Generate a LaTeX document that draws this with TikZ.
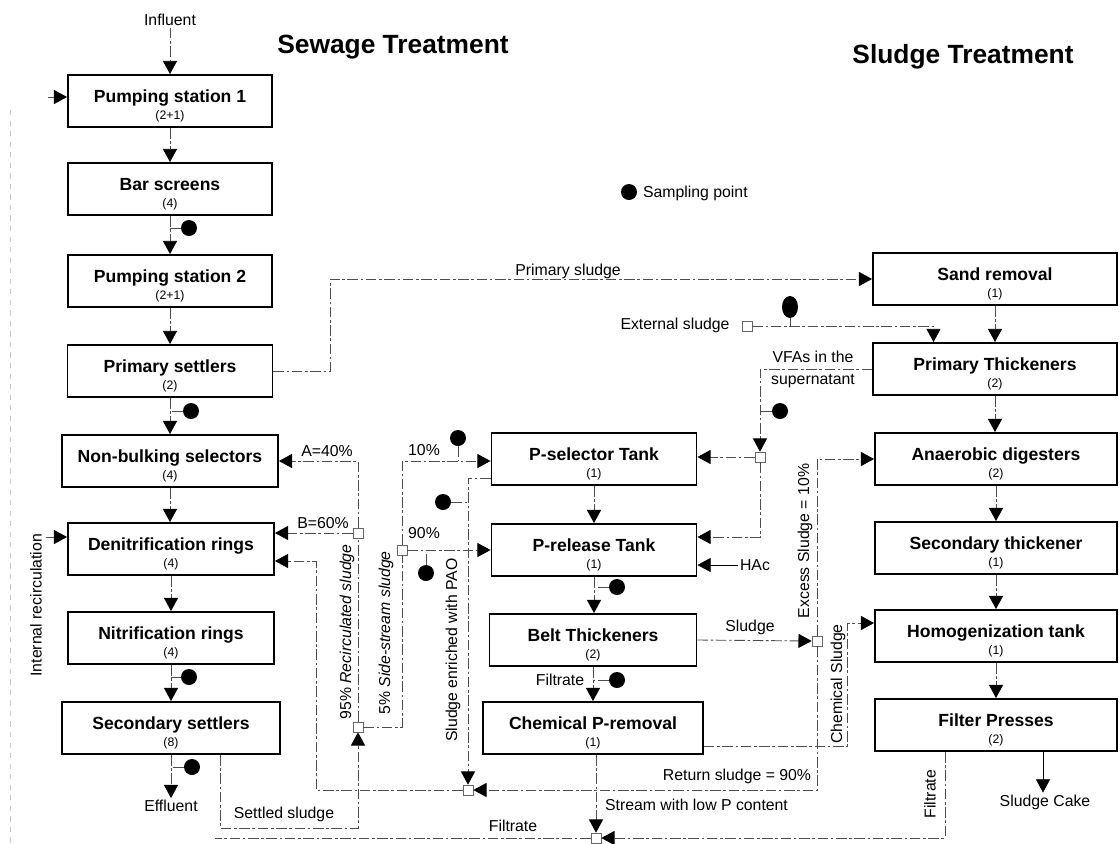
\documentclass[tikz,border=0pt]{standalone}
\usepackage{fontspec}
\setmainfont{Liberation Sans}
\usepackage{tikz}
\usetikzlibrary{calc}
\usetikzlibrary{arrows.meta}
\usetikzlibrary{shapes.geometric}
\tikzset{
  unit/.style={draw, line width=1.1pt, fill=white, minimum height=1.04cm, align=center, inner sep=1pt, font=\fontsize{10}{10}\selectfont\bfseries},
  flow/.style={black!70, line width=.5pt, dash pattern=on 6pt off 1.5pt on 1.5pt off 1.5pt},
  tip/.style={-{Triangle[width=8pt,length=7.5pt,color=black]}},
  dot/.style={circle, fill=black, inner sep=0pt, minimum size=.32cm},
  junc/.style={draw=black!60, fill=white, inner sep=0pt, minimum size=.2cm, line width=.4pt},
  lbl/.style={font=\fontsize{9}{10}\selectfont, inner sep=1pt},
  ttl/.style={font=\fontsize{15}{16}\selectfont\bfseries},
}
\newcommand{\unitext}[2]{\rule{0pt}{13pt}#1\\[0pt]{\fontsize{7}{7}\selectfont\mdseries (#2)}}

\begin{document}
\begin{tikzpicture}[x=.02cm, y=-.02cm]
\useasboundingbox (0,0) rectangle (1120,843);
% titles and legend
\node[ttl] (tsew) at (393,47) {Sewage Treatment};
\node[ttl] (tslu) at (963,57) {Sludge Treatment};
\node[dot] (dleg) at (629,192) {};
\node[lbl, anchor=west] (lleg) at (641,193) {Sampling point};

% sewage line
\node[unit, minimum width=4.08cm] (ps1) at (170,101) {\unitext{Pumping station 1}{2+1}};
\node[unit, minimum width=4.08cm] (bars) at (170,189) {\unitext{Bar screens}{4}};
\node[unit, minimum width=4.08cm] (ps2) at (170,281) {\unitext{Pumping station 2}{2+1}};
\node[unit, minimum width=4.1cm] (prim) at (170,371) {\unitext{Primary settlers}{2}};
\node[unit, minimum width=4.32cm] (nbs) at (170,461) {\unitext{Non-bulking selectors}{4}};
\node[unit, minimum width=4.12cm] (den) at (171,549) {\unitext{Denitrification rings}{4}};
\node[unit, minimum width=4.12cm] (nit) at (171,638) {\unitext{Nitrification rings}{4}};
\node[unit, minimum width=4.36cm] (sec) at (171,728) {\unitext{Secondary settlers}{8}};
\node[lbl] (infl) at (170,20) {Influent};
\node[lbl] (effl) at (171,806) {Effluent};

% P line
\node[unit, minimum width=4.1cm] (psel) at (594,459) {\unitext{P-selector Tank}{1}};
\node[unit, minimum width=4.1cm] (prel) at (594,550) {\unitext{P-release Tank}{1}};
\node[unit, minimum width=4.14cm] (belt) at (593,640) {\unitext{Belt Thickeners}{2}};
\node[unit, minimum width=4.4cm] (chem) at (593,728) {\unitext{Chemical P-removal}{1}};

% sludge line
\node[unit, minimum width=4.88cm] (sand) at (995,279) {\unitext{Sand removal}{1}};
\node[unit, minimum width=4.88cm] (pthk) at (995,369) {\unitext{Primary Thickeners}{2}};
\node[unit, minimum width=4.84cm] (anae) at (996,459) {\unitext{Anaerobic digesters}{2}};
\node[unit, minimum width=4.84cm] (sthk) at (996,548) {\unitext{Secondary thickener}{1}};
\node[unit, minimum width=4.84cm] (homo) at (996,636) {\unitext{Homogenization tank}{1}};
\node[unit, minimum width=4.84cm] (filt) at (996,725) {\unitext{Filter Presses}{2}};
\node[lbl] (cake) at (1045,802) {Sludge Cake};

% junctions
\node[junc] (jext) at (747,326) {};
\node[junc] (jvfa) at (760,457) {};
\node[junc] (jsl) at (817,641) {};
\node[junc] (jret) at (468,790) {};
\node[junc] (jrec) at (358,727) {};
\node[junc] (jab) at (358,533) {};
\node[junc] (jsp) at (402,550) {};
\node[junc] (jlow) at (596,838) {};

% sampling points
\foreach \d/\x/\y in {dbar/189/228, dpri/191/411, dnit/189/677, dsec/192/767, dprel/617/587, dbelt/617/680, dvfa/780/411, d10/458/438, dpao/443/502, d90/426/573}
  \node[dot] (\d) at (\x,\y) {};
\node[dot, ellipse, minimum width=.32cm, minimum height=.44cm] (dext) at (790,307) {};

% main flows
\foreach \a/\b in {ps1/bars, bars/ps2, ps2/prim, prim/nbs, nbs/den, den/nit, nit/sec, psel/prel, prel/belt, belt/chem, sand/pthk, pthk/anae, anae/sthk, sthk/homo, homo/filt}
  \draw[flow,tip] (\a.south) -- (\a.south |- \b.north);
\draw[flow,tip] (infl) -- (ps1);
\draw[flow,tip] (sec.south) -- (effl.north);
\foreach \d/\c in {dbar/bars, dpri/prim, dnit/nit, dsec/sec, dprel/prel, dbelt/belt}
  \draw[flow] (\d) -- (\d -| \c.south);

\coordinate (inl) at (48,97);
\draw[flow,tip] (inl) -- (inl -| ps1.west);
\node[lbl, rotate=90, anchor=east] (lirc) at (36,532) {Internal recirculation};
\coordinate (irc) at (46,537);
\draw[flow,tip] (irc) -- (irc -| den.west);
\coordinate (edgeA) at (10,110);
\coordinate (edgeB) at (10,843);
\draw[black!22, dashed] (edgeA) -- (edgeB);

% primary and external sludge
\draw[flow,tip] (prim.east) -- ++(57,0) |- (sand.west);
\node[lbl] (lpsl) at (568,271) {Primary sludge};
\node[lbl] (lext) at (675,325) {External sludge};
\coordinate (xin) at ($(pthk.north west)!.25!(pthk.north east)$);
\draw[flow,tip] (jext.east) -| (xin);
\draw[flow] (dext) -- (dext |- jext);

% VFAs
\draw[flow,tip] (pthk.west) -| (jvfa.north);
\node[lbl, align=center, font=\fontsize{9}{12.5}\selectfont] (lvfa) at (813,369) {VFAs in the\\supernatant};
\draw[flow] (dvfa) -- (dvfa -| jvfa);
\draw[flow,tip] (jvfa.west) -- (jvfa -| psel.east);
\coordinate (prelA) at ($(prel.east)+(0,-13)$);
\draw[flow,tip] (jvfa.south) |- (prelA);
\node[lbl] (lhac) at (755,565) {HAc};
\draw[tip] (lhac.west) -- (lhac.west -| prel.east);
\node[lbl] (lfil1) at (560,680) {Filtrate};

% belt thickener sludge
\draw[flow,tip] (belt.east) -- (jsl.west);
\node[lbl] (lsl) at (750,627) {Sludge};
\draw[flow,tip] (jsl.north) |- (anae.west);
\node[lbl, rotate=90] (lexc) at (805,541) {Excess Sludge = 10\%};
\coordinate (chemE) at ($(chem.south east)+(0,-9)$);
\coordinate (homoA) at ($(homo.west)+(0,-13)$);
\draw[flow,tip] (chemE) -| ($(homoA)+(-27,0)$) -- (homoA);
\node[lbl, rotate=90] (lchs) at (838,684) {Chemical Sludge};
\draw[flow,tip] (jsl.south) |- (jret.east);
\node[lbl] (lret) at (737,776) {Return sludge = 90\%};

% PAO sludge and return
\coordinate (pselB) at ($(psel.west)+(0,19)$);
\draw[flow,tip] (pselB) -| (jret.north);
\draw[flow] (dpao) -- (dpao -| jret);
\node[lbl, rotate=90] (lpao) at (453,650) {Sludge enriched with PAO};
\coordinate (denB) at ($(den.east)+(0,12)$);
\draw[flow,tip] (jret.west) -| ($(denB)+(41,0)$) -- (denB);

% settled sludge
\coordinate (secB) at ($(sec.south)+(49,0)$);
\draw[flow,tip] (secB) -- ++(0,73) -| (jrec.south);
\node[lbl] (lset) at (284,814) {Settled sludge};
\draw[flow] (jrec.north) -- (jab.south);
\node[lbl, rotate=90] (lrec) at (347,632) {95\% \textit{Recirculated sludge}};
\draw[flow,tip] (jab.west) -- (jab -| den.east);
\node[lbl] (lb) at (323,523) {B=60\%};
\draw[flow,tip] (jab.north) |- (nbs.east);
\node[lbl] (la) at (327,451) {A=40\%};
\draw[flow] (jrec.east) -| (jsp.south);
\node[lbl, rotate=90] (lside) at (386,633) {5\% \textit{Side-stream sludge}};
\draw[flow,tip] (jsp.east) -- (jsp -| prel.west);
\node[lbl] (l90) at (424,533) {90\%};
\draw[flow] (d90) -- (d90 |- jsp);
\coordinate (pselA) at ($(psel.west)+(0,2)$);
\draw[flow,tip] (jsp.north) |- (pselA);
\node[lbl] (l10) at (424,450) {10\%};
\draw[flow] (d10) -- (d10 |- pselA);

% bottom streams
\draw[flow,tip] (jlow.north |- chem.south) -- (jlow.north);
\node[lbl, anchor=west] (llow) at (603,805) {Stream with low P content};
\coordinate (filtB) at ($(filt.south)+(-51,0)$);
\draw[flow,tip] (filtB) |- (jlow.east);
\node[lbl, rotate=90] (lfil2) at (930,794) {Filtrate};
\coordinate (fout) at (215,838);
\draw[flow] (jlow.west) -- (fout);
\node[lbl] (lfil3) at (513,826) {Filtrate};
\coordinate (filtC) at ($(filt.south)+(47,0)$);
\draw[tip] (filtC) -- (filtC |- cake.north);
\end{tikzpicture}
\end{document}
